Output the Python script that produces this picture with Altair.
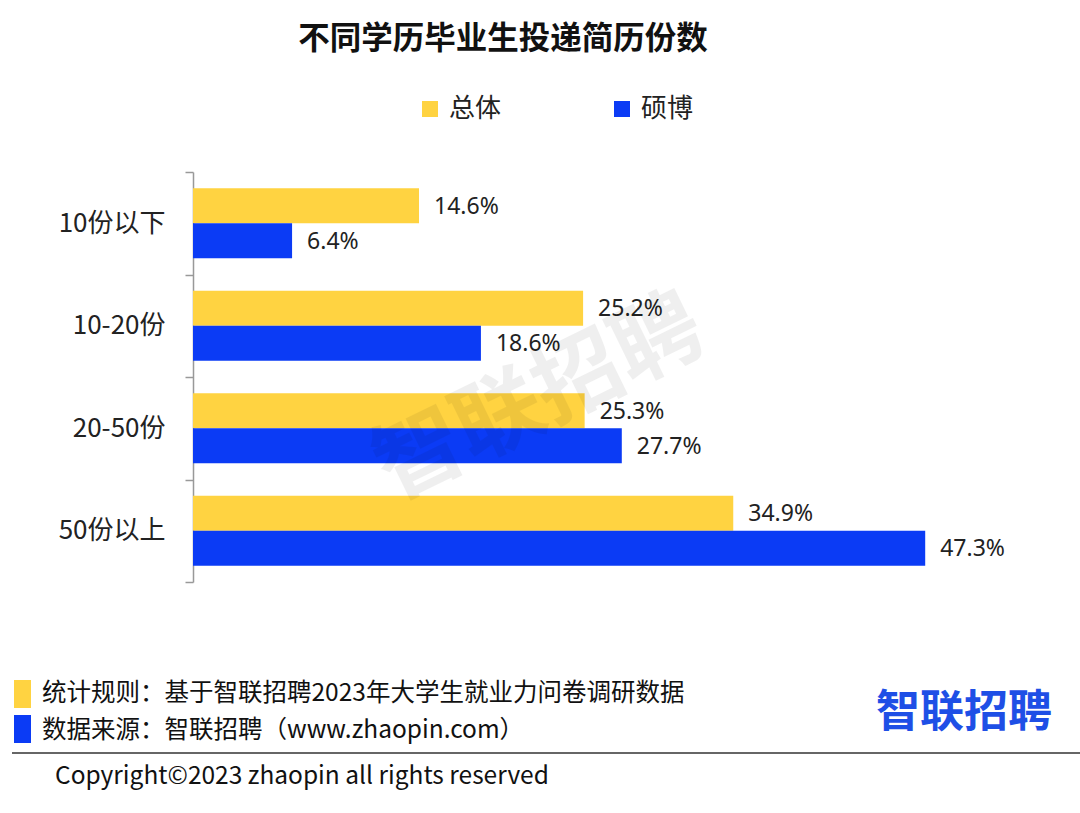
import altair as alt
import pandas as pd

categories = ["10份以下", "10-20份", "20-50份", "50份以上"]
series = ["总体", "硕博"]
overall = [14.6, 25.2, 25.3, 34.9]
grad = [6.4, 18.6, 27.7, 47.3]
colors = ["#FFD341", "#0B3BF5"]

title_text = "不同学历毕业生投递简历份数"
footer1 = "统计规则：基于智联招聘2023年大学生就业力问卷调研数据"
footer2 = "数据来源：智联招聘（www.zhaopin.com）"
copyright_text = "Copyright©2023 zhaopin all rights reserved"
logo_text = "智联招聘"

rows = []
for c, a, b in zip(categories, overall, grad):
    rows.append({"cat": c, "series": series[0], "value": a, "label": f"{a:.1f}%"})
    rows.append({"cat": c, "series": series[1], "value": b, "label": f"{b:.1f}%"})
df = pd.DataFrame(rows)

OX, OY = 193, 172
W, H = 774, 410
FONT = "Noto Sans CJK SC"

y_enc = alt.Y(
    "cat:N", sort=categories,
    scale=alt.Scale(paddingInner=0, paddingOuter=0),
    axis=alt.Axis(title=None, tickBand="extent", labelFontSize=26, labelColor="#222",
                  labelFont=FONT, labelPadding=20, tickSize=8, tickColor="#999",
                  domainColor="#999", tickWidth=1.5, domainWidth=1.5),
)
yoff = alt.YOffset("series:N", sort=series, scale=alt.Scale(paddingInner=0, paddingOuter=0.464))
x_enc = alt.X("value:Q", scale=alt.Scale(domain=[0, 50]), axis=None)
color = alt.Color(
    "series:N", sort=series, scale=alt.Scale(domain=series, range=colors),
    legend=alt.Legend(orient="none", legendX=224, legendY=-76, direction="horizontal",
                      title=None, symbolType="square", symbolSize=256, symbolStrokeWidth=0,
                      labelFontSize=26, labelFont=FONT, labelColor="#222",
                      columnPadding=107, labelOffset=6),
)

base = alt.Chart(df)
bars = base.mark_bar().encode(y=y_enc, yOffset=yoff, x=x_enc, color=color)
labels = base.mark_text(align="left", baseline="middle", dx=15, dy=1, fontSize=23,
                        font="Noto Sans", color="#222").encode(
    y=alt.Y("cat:N", sort=categories), yOffset=alt.YOffset("series:N", sort=series),
    x="value:Q", text="label:N")

one = pd.DataFrame([{"k": 0}])


def txt(text, x, y, size, align="left", weight="normal", col="#111", font=FONT, **kw):
    return alt.Chart(one).mark_text(text=text, align=align, baseline="middle", fontSize=size,
                                    font=font, fontWeight=weight, color=col, **kw).encode(
        x=alt.value(x - OX), y=alt.value(y - OY))


def rect(x1, x2, y1, y2, col):
    return alt.Chart(one).mark_rect(color=col).encode(
        x=alt.value(x1 - OX), x2=alt.value(x2 - OX), y=alt.value(y1 - OY), y2=alt.value(y2 - OY))


title = txt(title_text, 503, 40, 31.5, align="center", weight="bold")
watermark = txt(logo_text, 540, 400, 88, align="center", weight="bold", col="#000",
                angle=334, opacity=0.06)
f1 = txt(footer1, 42, 694, 24.5)
f2 = txt(footer2, 42, 731, 24.5)
cp = txt(copyright_text, 55, 777, 24.5)
logo = txt(logo_text, 964, 714, 44, align="center", weight="bold", col="#1E4FE6")
r1 = rect(14, 31, 680, 708, colors[0])
r2 = rect(14, 31, 715, 743, colors[1])
line = alt.Chart(one).mark_rule(color="#333", strokeWidth=1.5).encode(
    x=alt.value(12 - OX), x2=alt.value(1080 - OX), y=alt.value(753 - OY))

chart = alt.layer(bars, labels, watermark, title, f1, f2, cp, logo, r1, r2, line).properties(
    width=W, height=H,
    autosize=alt.AutoSizeParams(type="none"),
    padding={"left": OX, "top": OY, "right": 1080 - OX - W, "bottom": 813 - OY - H},
    background="white",
).configure_view(strokeWidth=0, stroke="transparent")

chart.save("out.html", embed_options={"renderer": "svg", "actions": False})
